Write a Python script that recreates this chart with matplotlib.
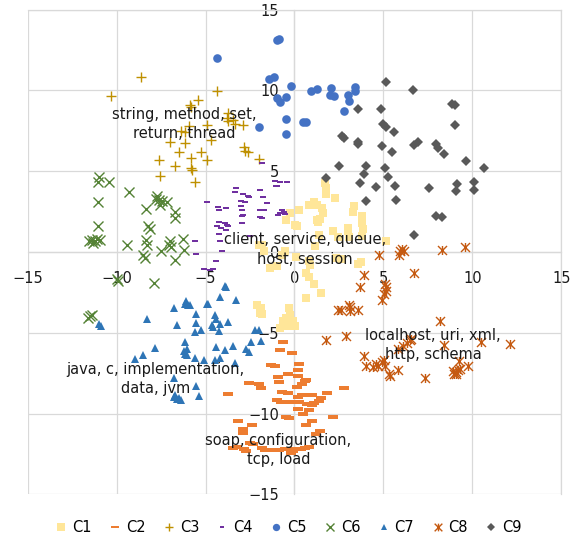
import matplotlib
matplotlib.use("Agg")
import matplotlib.pyplot as plt
from matplotlib.path import Path

# cluster coordinates
c1_x = [1.72, 1.76, 1.80, 2.28, 1.12, 1.24, 0.82, 1.57, 1.61, 0.26, -0.26, -0.45, 1.24, 1.35, 1.46,
        0.03, 0.15, 3.33, 3.29, 2.99, 2.99, 3.82, 3.82, 3.85, 2.17, 1.38, 2.47, 3.05, 3.78, 5.12,
        -1.80, -1.99, -1.72, -0.53, -0.71, 0.07, 1.16, 0.79, 0.90, 2.70, 2.36, 3.74, 3.56, -1.39,
        -1.01, 0.67, 0.82, 1.12, 1.49, 0.67, -2.10, -1.88, -1.84, -1.95, -0.30, -0.26, -0.49,
        -0.11, -0.49, -0.83, -0.36, -0.64, 0.02]
c1_y = [4.27, 3.94, 3.60, 3.35, 3.11, 2.90, 2.94, 2.70, 2.40, 2.61, 2.40, 1.99, 1.99, 1.86, 2.03,
        1.70, 1.58, 2.86, 2.45, 1.49, 1.29, 2.20, 1.82, 1.45, 1.29, 1.04, 0.91, 0.91, 0.98, 0.71,
        0.46, 0.42, 0.04, 0.09, -0.21, -0.33, 0.37, -0.58, -0.78, -0.41, -0.37, -0.62, -0.75, -0.99,
        -0.89, -1.32, -1.57, -1.99, -2.52, -2.86, -3.27, -3.48, -3.85, -3.79, -3.48, -3.89, -4.10,
        -4.30, -4.51, -4.72, -4.61, -4.30, -4.55]

c2_x = [-0.67, -0.79, -0.15, -1.31, -1.09, 0.26, 0.19, -0.34, -0.90, 0.19, -0.87, 0.60, 0.45,
        -2.55, -2.02, -1.88, 0.15, 2.81, -3.71, -0.71, -0.34, 0.41, 0.56, 0.22, 0.97, 1.83, 1.49,
        -1.01, -0.75, -0.22, 0.26, 1.12, 0.97, 0.71, 1.38, 0.22, 0.79, 0.48, -0.30, 2.17, 1.01,
        -3.15, -2.40, 0.63, -2.92, -2.92, 1.42, 1.20, -2.51, -3.48, -3.22, -2.81, -2.70, -1.80,
        -1.65, -1.12, -0.87, -0.53, -0.08, 0.03, 0.37, 0.60, 0.82, -0.22, -2.33, -0.45, 0.65]
c2_y = [-5.59, -6.09, -6.25, -6.99, -7.04, -6.91, -7.29, -7.58, -7.74, -7.70, -8.07, -7.99, -8.16,
        -8.11, -8.20, -8.40, -8.36, -8.40, -8.78, -8.65, -8.73, -8.86, -8.86, -8.98, -8.86, -8.70,
        -9.02, -9.19, -9.27, -9.27, -9.27, -9.35, -9.48, -9.40, -9.23, -9.69, -9.77, -10.02, -10.27,
        -10.19, -10.47, -10.47, -10.68, -10.68, -10.97, -11.18, -11.09, -11.26, -11.80, -12.13,
        -12.09, -12.17, -12.30, -12.13, -12.25, -12.25, -12.25, -12.17, -12.30, -12.17, -12.21,
        -12.13, -12.09, -12.46, -11.86, -10.20, -7.93]

c3_x = [-8.62, -10.34, -4.35, -5.43, -5.88, -5.81, -3.82, -3.71, -3.76, -3.45, -3.37, -2.92, -4.91,
        -5.92, -6.40, -6.15, -7.01, -6.18, -4.69, -2.85, -2.78, -2.62, -6.52, -5.28, -7.64, -5.81,
        -4.91, -6.74, -5.84, -5.77, -2.02, -7.57, -5.58]
c3_y = [10.85, 9.65, 9.94, 9.40, 9.11, 8.99, 8.32, 8.12, 8.63, 8.16, 7.91, 7.87, 7.87, 7.79, 7.50,
        7.42, 6.83, 6.75, 6.92, 6.50, 6.25, 6.21, 6.17, 6.17, 5.71, 5.84, 5.68, 5.34, 5.18, 5.09,
        5.76, 4.72, 4.35]

c4_x = [-3.26, -3.37, -2.92, -2.62, -2.55, -1.95, -1.09, -0.79, -1.05, -0.42, -0.98, -1.84, -4.91,
        -3.00, -2.78, -1.54, -1.76, -3.86, -4.27, -4.31, -3.00, -2.96, -1.95, -1.72, -0.71, -0.83,
        -0.53, -0.94, -0.60, -1.95, -1.84, -2.96, -2.92, -4.24, -3.93, -3.82, -3.71, -3.86, -4.12,
        -4.35, -4.27, -4.20, -2.96, -2.51, -5.58, -4.08, -5.51, -4.42, -5.10, -4.76, -4.57]
c4_y = [3.98, 3.73, 3.60, 3.44, 3.40, 3.81, 4.39, 4.31, 4.10, 4.35, 4.06, 5.51, 3.11, 3.15, 3.11,
        3.02, 3.40, 2.73, 2.61, 2.78, 2.86, 2.61, 2.61, 2.61, 2.57, 2.40, 2.36, 2.28, 2.45, 2.16,
        2.11, 2.20, 2.28, 1.86, 1.82, 1.70, 1.58, 1.37, 1.49, 1.58, 1.12, 0.66, 1.78, 0.96, 0.66,
        0.09, -0.12, -0.53, -1.03, -1.12, -1.03]

c5_x = [-4.38, -0.98, -0.87, -1.43, -1.16, -0.98, -0.79, -0.49, -0.19, -0.49, -0.49, -2.02, 0.48,
        0.63, 0.93, 1.24, 2.06, 2.02, 2.25, 3.03, 3.07, 3.40, 3.40, 2.77]
c5_y = [11.99, 13.13, 13.17, 10.71, 10.85, 9.53, 9.26, 9.57, 10.27, 8.22, 7.29, 7.75, 8.07, 8.07,
        9.94, 10.06, 10.15, 9.73, 9.65, 9.69, 9.36, 10.23, 9.98, 8.70]

c6_x = [-10.98, -11.05, -10.42, -9.33, -11.05, -7.72, -7.61, -7.79, -7.46, -7.19, -7.57, -8.35,
        -6.74, -6.71, -11.05, -8.24, -8.13, -11.54, -11.39, -11.24, -11.09, -10.94, -11.31, -9.44,
        -8.35, -8.28, -7.01, -7.08, -6.93, -6.26, -6.22, -7.53, -8.51, -8.41, -6.69, -9.93, -10.00,
        -7.89, -11.50, -11.40, -11.60]
c6_y = [4.64, 4.35, 4.35, 3.69, 3.07, 3.48, 3.23, 3.27, 3.15, 3.07, 2.94, 2.65, 2.45, 2.11, 1.61,
        1.58, 1.45, 0.66, 0.75, 0.66, 0.79, 0.75, 0.54, 0.42, 0.75, 0.42, 0.66, 0.42, 0.29, 0.79,
        0.12, 0.04, -0.16, -0.37, -0.47, -1.82, -1.65, -1.93, -3.99, -3.89, -4.10]

c7_x = [-3.93, -3.86, -4.16, -3.26, -6.11, -5.99, -5.88, -6.15, -4.94, -4.87, -6.78, -5.51, -4.49,
        -8.28, -4.42, -6.63, -5.51, -4.65, -4.16, -3.71, -4.57, -11.01, -10.87, -5.58, -5.25, -4.27,
        -2.21, -1.99, -6.15, -3.45, -2.44, -1.91, -4.42, -3.90, -7.87, -6.22, -6.07, -6.18, -6.03,
        -8.51, -8.96, -2.70, -2.58, -5.62, -5.06, -4.49, -4.16, -3.37, -6.78, -5.51, -6.71, -6.52,
        -6.37, -6.63, -6.78, -5.39]
c7_y = [-2.13, -2.19, -2.81, -2.98, -3.02, -3.27, -3.31, -3.19, -3.19, -3.19, -3.48, -3.85, -3.93,
        -4.14, -4.14, -4.51, -4.39, -4.51, -4.47, -4.35, -4.64, -4.47, -4.55, -4.97, -4.84, -4.88,
        -4.84, -4.80, -5.59, -5.80, -5.59, -5.50, -5.88, -6.04, -5.96, -6.12, -6.00, -6.29, -6.37,
        -6.37, -6.62, -6.00, -6.21, -6.58, -6.71, -6.71, -6.54, -6.87, -7.78, -8.28, -8.86, -9.02,
        -9.19, -9.07, -8.98, -8.94]

c8_x = [4.75, 5.92, 6.03, 6.14, 5.88, 8.28, 9.58, 3.93, 3.71, 5.09, 5.13, 5.13, 5.06, 6.70, 4.94,
        2.43, 2.62, 3.07, 3.15, 3.60, 3.11, 8.16, 1.80, 2.88, 6.48, 6.33, 6.55, 6.08, 5.80, 10.48,
        12.13, 3.93, 4.04, 4.42, 4.57, 4.72, 4.90, 5.02, 5.09, 5.31, 5.39, 5.80, 7.34, 8.91, 9.06,
        9.21, 9.10, 8.99, 9.29, 9.74, 8.39, 9.25]
c8_y = [-0.20, 0.04, 0.21, 0.09, -0.16, 0.12, 0.29, -1.45, -2.15, -1.99, -2.15, -2.40, -2.57, -1.32,
        -2.98, -3.56, -3.60, -3.27, -3.68, -3.56, -3.43, -4.30, -5.47, -5.17, -5.42, -5.63, -5.38,
        -5.80, -6.00, -5.59, -5.71, -6.42, -7.08, -7.12, -6.96, -7.04, -6.83, -6.66, -7.04, -7.58,
        -7.66, -7.29, -7.83, -7.37, -7.41, -7.29, -7.53, -7.58, -7.24, -7.04, -5.75, -6.75]

c9_x = [5.13, 6.66, 3.60, 4.87, 8.88, 9.02, 9.02, 4.98, 5.17, 5.58, 2.66, 2.77, 3.60, 3.60, 4.94,
        5.51, 6.70, 6.93, 7.98, 8.09, 8.39, 9.66, 10.67, 2.51, 4.04, 5.09, 3.89, 5.24, 1.80, 3.71,
        4.61, 5.65, 7.56, 9.13, 9.10, 10.11, 10.11, 4.01, 5.69, 7.98, 8.31, 6.74]
c9_y = [10.50, 10.02, 8.86, 8.86, 9.19, 9.07, 7.87, 7.95, 7.75, 7.45, 7.17, 7.04, 6.83, 6.67, 6.55,
        6.21, 6.63, 6.80, 6.67, 6.46, 6.09, 5.63, 5.22, 5.32, 5.32, 5.22, 4.81, 4.64, 4.56, 4.27,
        4.02, 4.06, 3.94, 4.22, 3.77, 4.31, 3.85, 3.15, 3.19, 2.22, 2.16, 1.04]

topic_labels = ["string, method, set,\nreturn, thread",
                "client, service, queue,\nhost, session",
                "java, c, implementation,\ndata, jvm",
                "soap, configuration,\ntcp, load",
                "localhost, uri, xml,\nhttp, schema"]
topic_x = [-6.2, 0.6, -7.8, -0.9, 7.8]
topic_y = [7.9, 0.15, -7.85, -12.25, -5.75]

ticks = [-15, -10, -5, 0, 5, 10, 15]

dash = [(-1, -0.36), (1, -0.36), (1, 0.36), (-1, 0.36), (-1, -0.36)]
star = Path([(-1, -1), (1, 1), (-1, 1), (1, -1), (0, -1), (0, 1)],
            [Path.MOVETO, Path.LINETO, Path.MOVETO, Path.LINETO, Path.MOVETO, Path.LINETO])

plt.rcParams['font.family'] = ['DejaVu Sans']

fig = plt.figure(figsize=(5.77, 5.38), dpi=100)
ax = fig.add_axes([0.048, 0.0812, 0.9247, 0.9008])

grid_c = "#D9D9D9"
series = [
    ("C1", c1_x, c1_y, dict(marker="s", ms=6.3, color="#FFE699", mew=0)),
    ("C2", c2_x, c2_y, dict(marker=dash, ms=6.5, color="#ED7D31", mew=0)),
    ("C3", c3_x, c3_y, dict(marker="+", ms=7, color="#BF9000", mew=1.0)),
    ("C4", c4_x, c4_y, dict(marker=dash, ms=4.2, color="#7030A0", mew=0)),
    ("C5", c5_x, c5_y, dict(marker="o", ms=6.2, color="#4472C4", mew=0)),
    ("C6", c6_x, c6_y, dict(marker="x", ms=6.5, color="#548235", mew=1.0)),
    ("C7", c7_x, c7_y, dict(marker="^", ms=5.5, color="#2E75B6", mew=0)),
    ("C8", c8_x, c8_y, dict(marker=star, ms=6.5, color="#C55A11", mew=1.0)),
    ("C9", c9_x, c9_y, dict(marker="D", ms=5, color="#595959", mew=0)),
]
for name, xs, ys, style in series:
    ax.plot(xs, ys, linestyle="none", label=name, zorder=3, **style)

for txt, tx, ty in zip(topic_labels, topic_x, topic_y):
    ax.text(tx, ty, txt, ha="center", va="center", fontsize=10.5,
            linespacing=1.35, color="#1a1a1a", zorder=5)

ax.set_xlim(-15, 15)
ax.set_ylim(-15, 15)
ax.set_xticks(ticks)
ax.set_yticks(ticks)
ax.grid(True, color=grid_c, linewidth=0.9, zorder=0)
ax.set_axisbelow(True)
for side in ["top", "right", "left", "bottom"]:
    ax.spines[side].set_color(grid_c)
    ax.spines[side].set_linewidth(0.9)
ax.spines["left"].set_position(("data", 0))
ax.spines["bottom"].set_position(("data", 0))
ax.tick_params(axis="both", length=0, labelsize=10.5, labelcolor="#1a1a1a")
ax.tick_params(axis="x", pad=14)
ax.tick_params(axis="y", pad=11)

fig.legend(loc="center", bbox_to_anchor=(0.5, 0.02), ncol=9, frameon=False,
           fontsize=10.5, handlelength=0.8, handletextpad=0.35, columnspacing=1.2,
           borderaxespad=0, markerscale=0.85)

fig.savefig("out.png", dpi=100)
